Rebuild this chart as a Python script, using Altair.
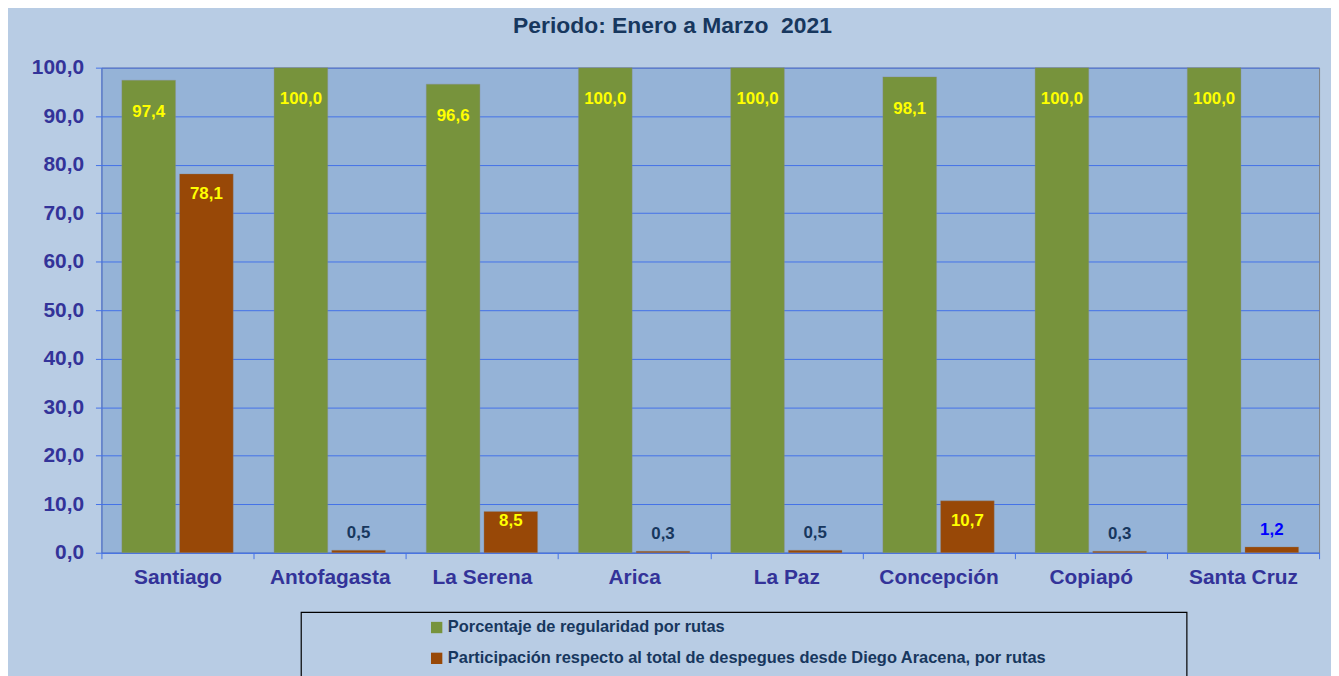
import altair as alt
import pandas as pd

categories = ["Santiago", "Antofagasta", "La Serena", "Arica", "La Paz",
              "Concepción", "Copiapó", "Santa Cruz"]
regularidad = [97.4, 100.0, 96.6, 100.0, 100.0, 98.1, 100.0, 100.0]
participacion = [78.1, 0.5, 8.5, 0.3, 0.5, 10.7, 0.3, 1.2]
series = ["Porcentaje de regularidad por rutas",
          "Participación respecto al total de despegues desde Diego Aracena, por rutas"]
colors = ["#77933c", "#984807"]
y_ticks = [0, 10, 20, 30, 40, 50, 60, 70, 80, 90, 100]
title_text = "Periodo: Enero a Marzo\u00a0 2021"

rows = []
for c, r, p in zip(categories, regularidad, participacion):
    rows.append({"cat": c, "serie": series[0], "value": r})
    rows.append({"cat": c, "serie": series[1], "value": p})
df = pd.DataFrame(rows)

FONT = "Liberation Sans"
AX_COL = "#333399"
GRID = "#4472e8"
W, H = 1225, 488

x_enc = alt.X("cat:N", sort=categories,
              scale=alt.Scale(domain=categories, paddingInner=0, paddingOuter=0),
              axis=alt.Axis(title=None, labelFont=FONT, labelFontSize=21,
                            labelFontWeight="bold", labelColor=AX_COL,
                            tickBand="extent", tickSize=6, tickColor=GRID,
                            domainColor=GRID, labelPadding=8, grid=False,
                            labelAngle=0))
xo_enc = alt.XOffset("serie:N",
                     scale=alt.Scale(domain=series, paddingInner=0.07, paddingOuter=0.354))
y_enc = alt.Y("value:Q",
              scale=alt.Scale(domain=[0, 100], nice=False),
              axis=alt.Axis(title=None, values=y_ticks,
                            labelExpr="replace(format(datum.value, '.1f'), '.', ',')",
                            labelFont=FONT, labelFontSize=21, labelFontWeight="bold",
                            labelColor=AX_COL, tickSize=6, tickColor=GRID,
                            domainColor=GRID, gridColor=GRID, gridWidth=1,
                            labelPadding=12))

base = alt.Chart(df).transform_calculate(
    lbl="replace(format(datum.value, '.1f'), '.', ',')"
)

bars = base.mark_bar(stroke="#8c8c8c", strokeWidth=0.6, strokeOpacity=0.6).encode(
    x=x_enc, xOffset=xo_enc, y=y_enc,
    color=alt.Color("serie:N", scale=alt.Scale(domain=series, range=colors),
                    legend=alt.Legend(orient="none", legendX=329, legendY=555,
                                      title=None, symbolType="square",
                                      symbolSize=130, symbolStrokeWidth=0,
                                      labelFont=FONT, labelFontSize=16.5,
                                      labelFontWeight="bold", labelColor="#17375e",
                                      rowPadding=14, labelLimit=0, padding=0,
                                      direction="vertical", labelOffset=3))
)

LBL = 17

green_lbl = base.transform_filter(alt.datum.serie == series[0]).mark_text(
    font=FONT, fontSize=LBL, fontWeight="bold", color="#ffff00",
    baseline="middle", dy=32
).encode(x=x_enc, xOffset=xo_enc, y=y_enc, text="lbl:N")

brown_in = base.transform_filter(
    (alt.datum.serie == series[1]) & (alt.datum.value > 5)
).transform_calculate(ly="max(datum.value, 10.7)").mark_text(
    font=FONT, fontSize=LBL, fontWeight="bold", color="#ffff00",
    baseline="middle", dy=20
).encode(x=x_enc, xOffset=xo_enc,
         y=alt.Y("ly:Q", scale=alt.Scale(domain=[0, 100], nice=False)),
         text="lbl:N")

brown_out = base.transform_filter(
    (alt.datum.serie == series[1]) & (alt.datum.value <= 5)
).mark_text(
    font=FONT, fontSize=LBL, fontWeight="bold", baseline="middle", dy=-17
).encode(x=x_enc, xOffset=xo_enc, y=y_enc, text="lbl:N",
         color=alt.condition(alt.datum.cat == "Santa Cruz",
                             alt.value("#0000ff"), alt.value("#17375e")))

legend_box = alt.Chart(pd.DataFrame({"k": [0]})).mark_rect(
    fill="transparent", stroke="#000000", strokeWidth=1.2
).encode(x=alt.value(201), x2=alt.value(1092), y=alt.value(548), y2=alt.value(640))

chart = alt.layer(bars, green_lbl, brown_in, brown_out, legend_box).properties(
    width=W, height=H,
    autosize=alt.AutoSizeParams(type="none"),
    padding={"left": 94, "top": 58, "right": 12, "bottom": 122},
    background="#b8cce4",
    title=alt.Title(title_text, font=FONT, fontSize=23, fontWeight="bold",
                    color="#17375e", anchor="middle", frame="group", dx=-38,
                    offset=19),
).configure_view(
    fill="#95b3d7", stroke="#808080", strokeWidth=1
)

chart.save("out.html", embed_options={"renderer": "svg", "actions": False})
